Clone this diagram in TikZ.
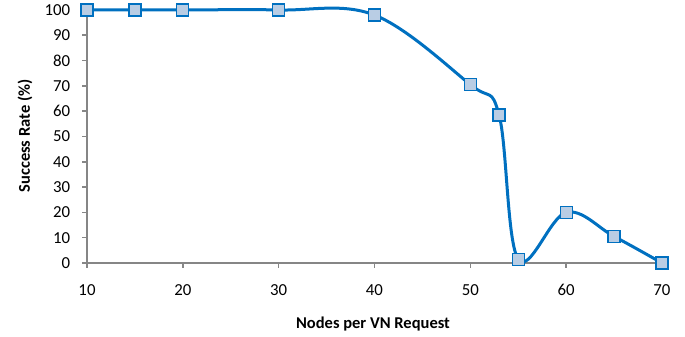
\documentclass[tikz,border=0pt]{standalone}
\usepackage{fontspec}
\setmainfont{Carlito}
\usetikzlibrary{positioning}

\definecolor{curveblue}{RGB}{0,112,192}
\definecolor{boxblue}{RGB}{185,205,228}
\definecolor{axisgray}{RGB}{134,134,134}

\begin{document}
\begin{tikzpicture}[main/.style = {draw=curveblue, fill=boxblue, line width=1.2pt, minimum size=12pt, inner sep=0pt},
                    axis/.style = {draw=axisgray, line width=1.6pt},
                    ticklabel/.style = {font=\fontsize{16.8}{20}\selectfont, inner sep=0pt},
                    title/.style = {font=\fontsize{16.5}{20}\selectfont\bfseries, inner sep=0pt}]
                \path[use as bounding box] (0,0) rectangle (685pt,337pt);
                \begin{scope}[shift={(-8.83pt,74pt)}, x=9.583pt, y=2.53pt]
                \coordinate (O) at (10,0);
                \coordinate (T) at (10,100);
                \coordinate (R) at (70,0);
                \draw [axis] (T) -- (O) -- (R);
                \foreach \v in {0,10,...,100}
                        \draw [axis] (10,\v) -- ++(-5pt,0) node[ticklabel, anchor=east, xshift=-11pt] {\v};
                \foreach \v in {10,20,...,70}
                        \draw [axis] (\v,0) -- ++(0,-5pt) node[ticklabel, anchor=center, yshift=-22pt] {\v};

                \coordinate (a) at (10, 100);
                \coordinate (b) at (15, 100);
                \coordinate (c) at (20, 100);
                \coordinate (d) at (30, 100);
                \coordinate (e) at (40, 98);
                \coordinate (f) at (50, 70.5);
                \coordinate (g) at (53, 58.5);
                \coordinate (h) at (55, 1.5);
                \coordinate (i) at (60, 20);
                \coordinate (j) at (65, 10.5);
                \coordinate (k) at (70, 0);

                \draw [curveblue, line width=3pt, line join=round] plot[smooth, tension=0.6] coordinates {(a) (b) (c) (d) (e) (f) (g) (h) (i) (j) (k)};

                \node[main] (A) at (a) {};
                \node[main] (B) at (b) {};
                \node[main] (C) at (c) {};
                \node[main] (D) at (d) {};
                \node[main] (E) at (e) {};
                \node[main] (F) at (f) {};
                \node[main] (G) at (g) {};
                \node[main] (H) at (h) {};
                \node[main] (I) at (i) {};
                \node[main] (J) at (j) {};
                \node[main] (K) at (k) {};
                \end{scope}

                \node[title, rotate=90] (ytitle) at (25pt,201pt) {Success Rate (\%)};
                \node[title, anchor=base] (xtitle) at (373pt,8pt) {Nodes per VN Request};
\end{tikzpicture}
\end{document}
